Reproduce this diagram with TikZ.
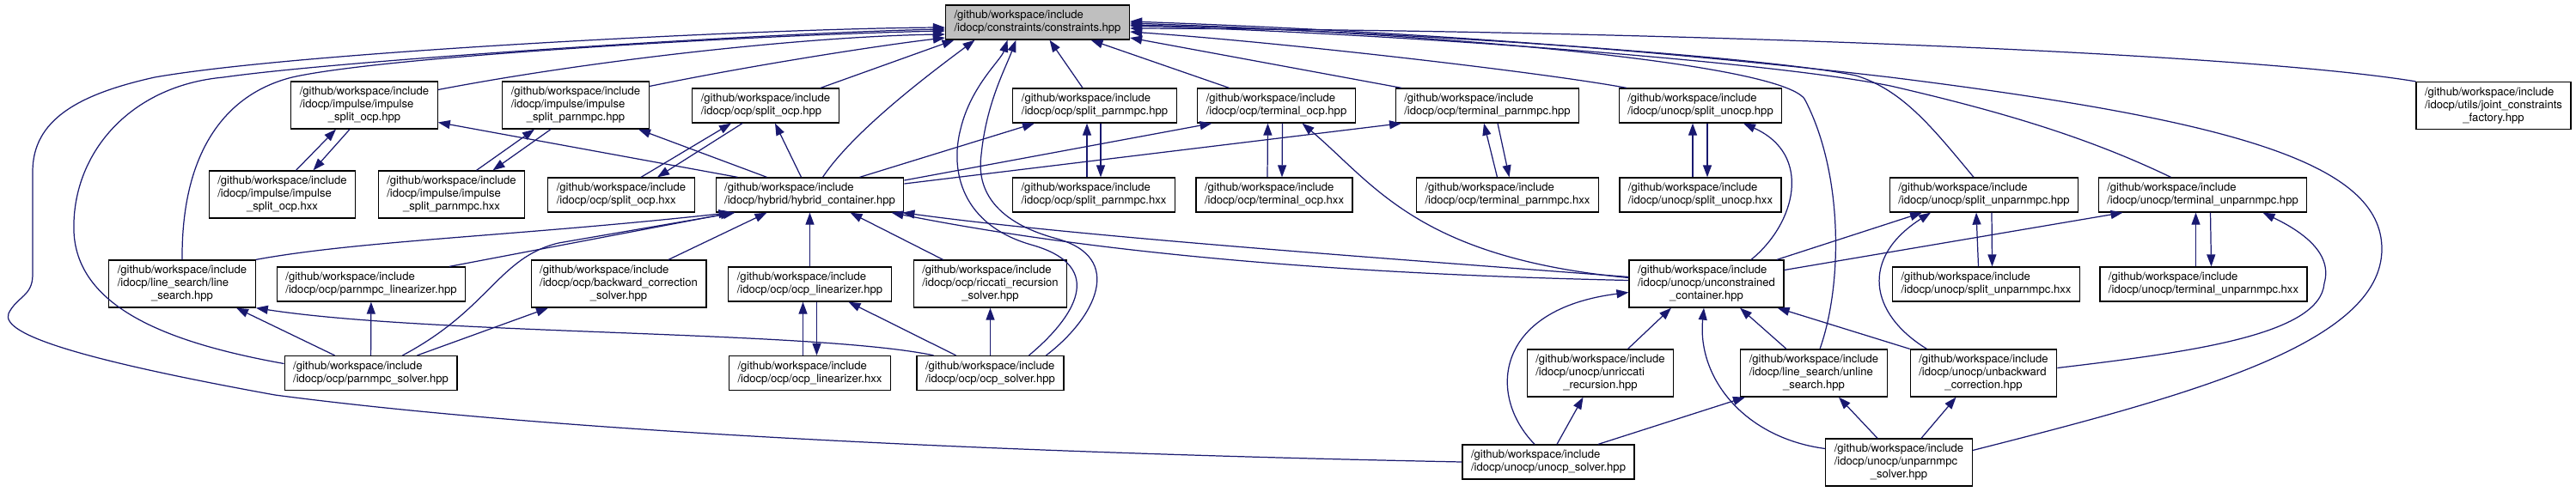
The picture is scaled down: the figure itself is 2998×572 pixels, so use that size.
\documentclass[tikz,border=0pt]{standalone}
\usepackage{fontspec}
\setmainfont{TeX Gyre Heros}
\usetikzlibrary{arrows.meta,calc}

\definecolor{edgeblue}{HTML}{191970}
\definecolor{maingray}{HTML}{BFBFBF}

\newcommand{\twoline}[2]{\begin{tabular}{@{}l@{}}#1\\#2\end{tabular}}
\newcommand{\threeline}[3]{\begin{tabular}{@{}l@{}}#1\\#2\\\multicolumn{1}{@{}c@{}}{#3}\end{tabular}}

\tikzset{
  file/.style={draw=black, fill=white, line width=0.7pt, inner xsep=0.2cm, inner ysep=0.1cm,
               font=\fontsize{7.45}{8.54}\selectfont},
  mainfile/.style={file, fill=maingray},
  dep/.style={draw=edgeblue, line width=0.7pt, -{Triangle[length=0.28cm,width=0.2cm]}},
}

\begin{document}
\begin{tikzpicture}[x=0.02cm,y=-0.02cm]
\useasboundingbox (0,0) rectangle (2998,572);

% File principali
\node[mainfile] (main) at (1207.5,26) {\twoline{/github/workspace/include}{/idocp/constraints/constraints.hpp}};
\node[file] (isocp) at (424,122.5) {\threeline{/github/workspace/include}{/idocp/impulse/impulse}{\_split\_ocp.hpp}};
\node[file] (ispar) at (670,122.5) {\threeline{/github/workspace/include}{/idocp/impulse/impulse}{\_split\_parnmpc.hpp}};
\node[file] (socp) at (891,123) {\twoline{/github/workspace/include}{/idocp/ocp/split\_ocp.hpp}};
\node[file] (spar) at (1274,123) {\twoline{/github/workspace/include}{/idocp/ocp/split\_parnmpc.hpp}};
\node[file] (tocp) at (1485.5,123) {\twoline{/github/workspace/include}{/idocp/ocp/terminal\_ocp.hpp}};
\node[file] (tpar) at (1731,123) {\twoline{/github/workspace/include}{/idocp/ocp/terminal\_parnmpc.hpp}};
\node[file] (sunocp) at (1979,123) {\twoline{/github/workspace/include}{/idocp/unocp/split\_unocp.hpp}};
\node[file] (jcf) at (2902,123) {\threeline{/github/workspace/include}{/idocp/utils/joint\_constraints}{\_factory.hpp}};

\node[file] (isocpx) at (328.5,226.5) {\threeline{/github/workspace/include}{/idocp/impulse/impulse}{\_split\_ocp.hxx}};
\node[file] (isparx) at (525.5,226.5) {\threeline{/github/workspace/include}{/idocp/impulse/impulse}{\_split\_parnmpc.hxx}};
\node[file] (socpx) at (723,227) {\twoline{/github/workspace/include}{/idocp/ocp/split\_ocp.hxx}};
\node[file] (hyb) at (942.5,227) {\twoline{/github/workspace/include}{/idocp/hybrid/hybrid\_container.hpp}};
\node[file] (sparx) at (1273,227) {\twoline{/github/workspace/include}{/idocp/ocp/split\_parnmpc.hxx}};
\node[file] (tocpx) at (1483,227) {\twoline{/github/workspace/include}{/idocp/ocp/terminal\_ocp.hxx}};
\node[file] (tparx) at (1754.5,227) {\twoline{/github/workspace/include}{/idocp/ocp/terminal\_parnmpc.hxx}};
\node[file] (sunocpx) at (1979,227) {\twoline{/github/workspace/include}{/idocp/unocp/split\_unocp.hxx}};
\node[file] (sunpar) at (2309,227) {\twoline{/github/workspace/include}{/idocp/unocp/split\_unparnmpc.hpp}};
\node[file] (tunpar) at (2563.5,227) {\twoline{/github/workspace/include}{/idocp/unocp/terminal\_unparnmpc.hpp}};

\node[file] (ls) at (212,330.5) {\threeline{/github/workspace/include}{/idocp/line\_search/line}{\_search.hpp}};
\node[file] (plin) at (432,331) {\twoline{/github/workspace/include}{/idocp/ocp/parnmpc\_linearizer.hpp}};
\node[file] (bcs) at (720,330.5) {\threeline{/github/workspace/include}{/idocp/ocp/backward\_correction}{\_solver.hpp}};
\node[file] (olin) at (942.5,331) {\twoline{/github/workspace/include}{/idocp/ocp/ocp\_linearizer.hpp}};
\node[file] (rrs) at (1152.5,330.5) {\threeline{/github/workspace/include}{/idocp/ocp/riccati\_recursion}{\_solver.hpp}};
\node[file] (ucont) at (1986,330.5) {\threeline{/github/workspace/include}{/idocp/unocp/unconstrained}{\_container.hpp}};
\node[file] (sunparx) at (2311.5,331) {\twoline{/github/workspace/include}{/idocp/unocp/split\_unparnmpc.hxx}};
\node[file] (tunparx) at (2564.5,331) {\twoline{/github/workspace/include}{/idocp/unocp/terminal\_unparnmpc.hxx}};

\node[file] (psol) at (431.5,434.5) {\twoline{/github/workspace/include}{/idocp/ocp/parnmpc\_solver.hpp}};
\node[file] (olinx) at (942.5,434.5) {\twoline{/github/workspace/include}{/idocp/ocp/ocp\_linearizer.hxx}};
\node[file] (osol) at (1152.5,434.5) {\twoline{/github/workspace/include}{/idocp/ocp/ocp\_solver.hpp}};
\node[file] (urr) at (1862.5,434.5) {\threeline{/github/workspace/include}{/idocp/unocp/unriccati}{\_recursion.hpp}};
\node[file] (uls) at (2111,434.5) {\threeline{/github/workspace/include}{/idocp/line\_search/unline}{\_search.hpp}};
\node[file] (ubc) at (2308.5,434.5) {\threeline{/github/workspace/include}{/idocp/unocp/unbackward}{\_correction.hpp}};

\node[file] (usol) at (1802,538) {\twoline{/github/workspace/include}{/idocp/unocp/unocp\_solver.hpp}};
\node[file] (upsol) at (2210,538.5) {\threeline{/github/workspace/include}{/idocp/unocp/unparnmpc}{\_solver.hpp}};

% Verso constraints.hpp
\draw[dep] ($(isocp.east)+(0,-18)$) .. controls (700,68) and (950,42) .. ($(main.west)+(0,14)$);
\draw[dep] ($(ispar.east)+(0,-22)$) .. controls (880,75) and (1030,52) .. ($(main.west)+(0,18)$);
\draw[dep] ($(socp.north)+(64,0)$) -- ($(main.south)+(-97,0)$);
\draw[dep] ($(hyb.north)+(15,0)$) .. controls (995,150) and (1090,80) .. ($(main.south)+(-73,0)$);
\draw[dep] ($(spar.north)+(-14,0)$) -- ($(main.south)+(14,0)$);
\draw[dep] ($(tocp.north)+(-55,0)$) -- ($(main.south)+(62,0)$);
\draw[dep] ($(tpar.north)+(-100,0)$) -- ($(main.east)+(0,18)$);
\draw[dep] ($(sunocp.north)+(-86,0)$) .. controls (1800,85) and (1500,50) .. ($(main.east)+(0,11)$);
\draw[dep] (jcf.north west) .. controls (2600,60) and (1900,35) .. ($(main.east)+(0,7)$);
\draw[dep] ($(uls.north)+(7,0)$) .. controls (2145,330) and (2145,200) .. (2100,115)
  .. controls (2070,75) and (1700,40) .. ($(main.east)+(0,1)$);
\draw[dep] ($(sunpar.north)+(-12,0)$) .. controls (2250,150) and (2215,105) .. (2160,88)
  .. controls (2050,65) and (1600,35) .. ($(main.east)+(0,3)$);
\draw[dep] ($(tunpar.north)+(-37,0)$) .. controls (2430,160) and (2330,130) .. (2200,100)
  .. controls (2050,70) and (1600,38) .. ($(main.east)+(0,4)$);
\draw[dep] ($(upsol.east)+(0,-14)$) .. controls (2550,460) and (2772,400) .. (2772,290)
  .. controls (2772,190) and (2600,140) .. (2200,90) .. controls (1900,55) and (1600,35) .. ($(main.east)+(0,-1)$);
\draw[dep] (ls.north) .. controls (211,180) and (260,110) .. (340,90)
  .. controls (450,65) and (900,40) .. ($(main.west)+(0,10)$);
\draw[dep] ($(psol.west)+(0,-11)$) .. controls (200,400) and (90,360) .. (86,270)
  .. controls (83,180) and (150,100) .. (260,90) .. controls (400,70) and (900,38) .. ($(main.west)+(0,8)$);
\draw[dep] (usol.west) .. controls (1300,530) and (700,510) .. (320,460)
  .. controls (100,420) and (0,390) .. (10,365) .. controls (20,345) and (38,345) .. (38,320) -- (38,200)
  .. controls (38,140) and (90,110) .. (180,90) .. controls (350,60) and (900,33) .. ($(main.west)+(0,6)$);
\draw[dep] ($(osol.north)+(45,0)$) .. controls (1250,370) and (1290,310) .. (1200,285)
  .. controls (1120,262) and (1105,200) .. (1118,150) .. controls (1130,100) and (1165,70) .. ($(main.south)+(-35,0)$);
\draw[dep] ($(osol.north)+(65,0)$) .. controls (1275,370) and (1310,300) .. (1230,278)
  .. controls (1170,262) and (1135,230) .. (1142,180) .. controls (1148,120) and (1170,80) .. ($(main.south)+(-25,0)$);

% hybrid_container.hpp
\draw[dep] ($(hyb.north)+(-84,0)$) -- ($(isocp.east)+(0,20)$);
\draw[dep] ($(hyb.north)+(-50,0)$) -- ($(ispar.south)+(73,0)$);
\draw[dep] ($(hyb.north)+(-10,0)$) -- ($(socp.south)+(11,0)$);
\draw[dep] ($(hyb.north)+(58,0)$) -- ($(spar.south)+(-70,0)$);
\draw[dep] ($(hyb.east)+(0,-17)$) -- ($(tocp.south)+(-75,0)$);
\draw[dep] ($(hyb.east)+(0,-13)$) -- ($(tpar.south)+(-100,0)$);
\draw[dep] (ls.north east) .. controls (420,280) and (600,275) .. ($(hyb.south)+(-92,0)$);
\draw[dep] ($(plin.north)+(91,0)$) -- ($(hyb.south)+(-90,0)$);
\draw[dep] ($(psol.north)+(37,0)$) .. controls (570,360) and (580,300) .. (650,283) -- ($(hyb.south)+(-87,0)$);
\draw[dep] ($(bcs.north)+(58,0)$) -- ($(hyb.south)+(-50,0)$);
\draw[dep] (olin) -- (hyb);
\draw[dep] ($(rrs.north)+(-55,0)$) -- ($(hyb.south)+(47,0)$);
\draw[dep] ($(ucont.west)+(0,-8)$) .. controls (1600,300) and (1250,275) .. ($(hyb.south east)+(-2,0)$);
\draw[dep] ($(ucont.west)+(0,-4)$) .. controls (1600,320) and (1300,300) .. ($(hyb.south)+(95,0)$);

% unconstrained_container.hpp
\draw[dep] ($(ucont.west)+(0,-7)$) .. controls (1650,300) and (1600,215) .. ($(tocp.south)+(30,0)$);
\draw[dep] ($(ucont.north)+(52,0)$) .. controls (2090,260) and (2110,180) .. ($(sunocp.south)+(50,0)$);
\draw[dep] ($(ucont.north)+(82,0)$) -- ($(sunpar.south)+(-72,0)$);
\draw[dep] ($(ucont.east)+(0,-16)$) -- ($(tunpar.south)+(-93,0)$);
\draw[dep] ($(urr.north)+(32,0)$) -- ($(ucont.south)+(-41,0)$);
\draw[dep] ($(usol.north)+(-16,0)$) .. controls (1730,460) and (1740,360) .. ($(ucont.west)+(0,10)$);
\draw[dep] ($(uls.north)+(-32,0)$) -- ($(ucont.south)+(39,0)$);
\draw[dep] (ubc.north west) -- ($(ucont.south east)+(-8,0)$);
\draw[dep] ($(upsol.west)+(0,-16)$) .. controls (2030,510) and (1975,440) .. ($(ucont.south)+(-3,0)$);

% solutori unocp
\draw[dep] ($(usol.north)+(10,0)$) -- ($(urr.south)+(-20,0)$);
\draw[dep] ($(usol.north)+(58,0)$) -- ($(uls.south)+(-80,0)$);
\draw[dep] ($(upsol.north)+(-25,0)$) -- ($(uls.south)+(29,0)$);
\draw[dep] ($(upsol.north)+(26,0)$) -- ($(ubc.south)+(-32,0)$);
\draw[dep] ($(ubc.north)+(-66,0)$) .. controls (2175,365) and (2165,300) .. ($(sunpar.south)+(-62,0)$);
\draw[dep] ($(ubc.east)+(0,-6)$) .. controls (2550,410) and (2700,390) .. (2705,330)
  .. controls (2715,295) and (2680,270) .. ($(tunpar.south)+(70,0)$);

% coppie hpp / hxx
\draw[dep] ($(isocpx.north)+(16,0)$) -- ($(isocp.south)+(-33,0)$);
\draw[dep] ($(isocp.south)+(-17,0)$) -- ($(isocpx.north)+(36,0)$);
\draw[dep] ($(isparx.north)+(29,0)$) -- ($(ispar.south)+(-48,0)$);
\draw[dep] ($(ispar.south)+(-29,0)$) -- ($(isparx.north)+(48,0)$);
\draw[dep] ($(socpx.north)+(23,0)$) -- ($(socp.south)+(-40,0)$);
\draw[dep] ($(socp.south)+(-27,0)$) -- ($(socpx.north)+(42,0)$);
\draw[dep] ($(sparx.north)+(-8,0)$) -- ($(spar.south)+(-9,0)$);
\draw[dep] ($(spar.south)+(7,0)$) -- ($(sparx.north)+(8,0)$);
\draw[dep] ($(tocpx.north)+(-8,0)$) -- ($(tocp.south)+(-10,0)$);
\draw[dep] ($(tocp.south)+(7,0)$) -- ($(tocpx.north)+(9,0)$);
\draw[dep] ($(tparx.north)+(-12,0)$) -- ($(tpar.south)+(-4,0)$);
\draw[dep] ($(tpar.south)+(12,0)$) -- ($(tparx.north)+(2,0)$);
\draw[dep] ($(sunocpx.north)+(-9,0)$) -- ($(sunocp.south)+(-9,0)$);
\draw[dep] ($(sunocp.south)+(8,0)$) -- ($(sunocpx.north)+(8,0)$);
\draw[dep] ($(sunparx.north)+(-9,0)$) -- ($(sunpar.south)+(-9,0)$);
\draw[dep] ($(sunpar.south)+(9,0)$) -- ($(sunparx.north)+(7,0)$);
\draw[dep] ($(tunparx.north)+(-9,0)$) -- ($(tunpar.south)+(-8,0)$);
\draw[dep] ($(tunpar.south)+(9,0)$) -- ($(tunparx.north)+(9,0)$);
\draw[dep] ($(olinx.north)+(-8,0)$) -- ($(olin.south)+(-8,0)$);
\draw[dep] ($(olin.south)+(8,0)$) -- ($(olinx.north)+(8,0)$);

% solutori ocp
\draw[dep] ($(psol.north)+(-42,0)$) -- ($(ls.south)+(63,0)$);
\draw[dep] (psol) -- (plin);
\draw[dep] ($(psol.north)+(54,0)$) -- ($(bcs.south)+(-82,0)$);
\draw[dep] ($(osol.north)+(-66,0)$) .. controls (950,385) and (500,390) .. (ls.south east);
\draw[dep] (osol) -- (rrs);
\draw[dep] ($(osol.north)+(-40,0)$) -- ($(olin.south)+(45,0)$);
\end{tikzpicture}
\end{document}
